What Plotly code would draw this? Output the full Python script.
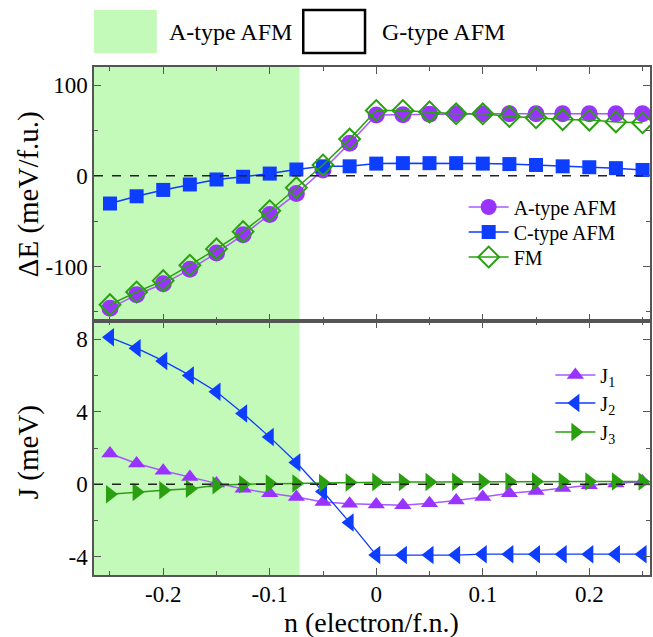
import plotly.graph_objects as go
from plotly.subplots import make_subplots

# ---------------- data ----------------
n_vals = [-0.25, -0.225, -0.2, -0.175, -0.15, -0.125, -0.1, -0.075, -0.05, -0.025,
          0.0, 0.025, 0.05, 0.075, 0.1, 0.125, 0.15, 0.175, 0.2, 0.225, 0.25]

dE_A_type = [-146, -131, -119, -103, -85, -65, -42.5, -19.5, 6.5, 36, 67,
             67.5, 68, 68.5, 68.5, 68.5, 68.5, 68.5, 68.5, 68.5, 68.5]
dE_C_type = [-30.5, -22.5, -15.5, -9.5, -4, -1, 2.5, 7, 10.5, 10.5, 13.5,
             14, 14, 14, 13.5, 13, 12, 10.5, 9.5, 8.5, 6.5]
dE_FM = [-142, -128, -115.5, -98.5, -80.5, -61.5, -38.5, -13, 12, 40.5, 72,
         72, 70.5, 68.5, 68.5, 65.5, 64, 62, 61.5, 59.5, 58.5]

J1 = [1.7, 1.15, 0.75, 0.4, 0.05, -0.25, -0.5, -0.7, -0.98, -1.07, -1.12,
      -1.15, -1.05, -0.9, -0.7, -0.5, -0.37, -0.2, -0.05, 0.05, 0.15]
J2 = [8.1, 7.5, 6.8, 6.0, 5.1, 3.9, 2.6, 1.2, -0.4, -2.1, -3.9,
      -3.9, -3.9, -3.9, -3.85, -3.85, -3.85, -3.85, -3.85, -3.85, -3.85]
J3 = [-0.55, -0.42, -0.33, -0.24, -0.06, 0.0, 0.04, 0.05, 0.07, 0.1, 0.12,
      0.13, 0.13, 0.14, 0.14, 0.15, 0.15, 0.15, 0.15, 0.15, 0.15]

x_tickvals = [-0.2, -0.1, 0.0, 0.1, 0.2]
x_ticktext = ["-0.2", "-0.1", "0", "0.1", "0.2"]
x_minor = [-0.25, -0.15, -0.05, 0.05, 0.15, 0.25]
e_tickvals = [-100, 0, 100]
e_ticktext = ["-100", "0", "100"]
e_minor = [-150, -50, 50]
j_tickvals = [-4, 0, 4, 8]
j_ticktext = ["-4", "0", "4", "8"]
j_minor = [-2, 2, 6]

A_region_end = -0.072
x_range = [-0.265, 0.257]

# ---------------- style ----------------
FONT = "Liberation Serif"
PURPLE = "#9933ff"
PURPLE_L = "#a659ff"
BLUE = "#0d3dff"
GREEN = "#2aa010"
SHADE = "#c3f9b9"
FRAME = "#555555"

W, H = 653, 637
L, R, T, B = 94, 652, 67, 575


def px_x(p):
    return (p - L) / (R - L)


def px_y(p):
    return (B - p) / (B - T)


fig = make_subplots(rows=2, cols=1, shared_xaxes=True, vertical_spacing=0)

fig.add_trace(go.Scatter(x=n_vals, y=dE_A_type, mode="lines+markers", name="A-type AFM",
                         line=dict(color=PURPLE_L, width=1.5),
                         marker=dict(symbol="circle", size=17, color=PURPLE),
                         legend="legend", showlegend=True), row=1, col=1)
fig.add_trace(go.Scatter(x=n_vals, y=dE_C_type, mode="lines+markers", name="C-type AFM",
                         line=dict(color=BLUE, width=1.5),
                         marker=dict(symbol="square", size=14, color=BLUE),
                         legend="legend2"), row=1, col=1)
fig.add_trace(go.Scatter(x=n_vals, y=dE_FM, mode="lines+markers", name="FM",
                         line=dict(color=GREEN, width=1.5),
                         marker=dict(symbol="diamond-open", size=16, color=GREEN,
                                     line=dict(width=2, color=GREEN)),
                         legend="legend3"), row=1, col=1)

fig.add_trace(go.Scatter(x=n_vals, y=J1, mode="lines+markers", name="J<sub>1</sub>",
                         line=dict(color=PURPLE_L, width=1.5),
                         marker=dict(symbol="triangle-up", size=15, color=PURPLE),
                         legend="legend4"), row=2, col=1)
fig.add_trace(go.Scatter(x=n_vals, y=J2, mode="lines+markers", name="J<sub>2</sub>",
                         line=dict(color=BLUE, width=1.3),
                         marker=dict(symbol="triangle-left", size=16, color=BLUE),
                         legend="legend5"), row=2, col=1)
fig.add_trace(go.Scatter(x=n_vals, y=J3, mode="lines+markers", name="J<sub>3</sub>",
                         line=dict(color=GREEN, width=1.5),
                         marker=dict(symbol="triangle-right", size=16, color=GREEN),
                         legend="legend6"), row=2, col=1)

axis_common = dict(showline=True, linecolor=FRAME, linewidth=1.5, mirror="allticks",
                   ticks="inside", ticklen=7, tickwidth=1.2, tickcolor=FRAME,
                   showgrid=False, zeroline=False,
                   tickfont=dict(family=FONT, size=23, color="black"))

fig.update_xaxes(range=x_range, tickmode="array", tickvals=x_tickvals, ticktext=x_ticktext,
                 minor=dict(tickmode="array", tickvals=x_minor, ticks="inside", ticklen=4,
                            tickcolor=FRAME, tickwidth=1.2, showgrid=False),
                 **axis_common)
fig.update_xaxes(showticklabels=False, row=1, col=1)
fig.update_xaxes(ticklabelstandoff=-2, row=2, col=1)

fig.update_yaxes(range=[-160, 120], tickmode="array", tickvals=e_tickvals, ticktext=e_ticktext,
                 minor=dict(tickmode="array", tickvals=e_minor, ticks="inside", ticklen=4,
                            tickcolor=FRAME, tickwidth=1.2, showgrid=False),
                 domain=[0.5, 1.0], row=1, col=1, **axis_common)
fig.update_yaxes(range=[-5, 9], tickmode="array", tickvals=j_tickvals, ticktext=j_ticktext,
                 minor=dict(tickmode="array", tickvals=j_minor, ticks="inside", ticklen=4,
                            tickcolor=FRAME, tickwidth=1.2, showgrid=False),
                 domain=[0.0, 0.5], row=2, col=1, **axis_common)

# shaded A-type AFM region across both panels
fig.add_shape(type="rect", xref="x", yref="paper", x0=x_range[0], x1=A_region_end,
              y0=0, y1=1, fillcolor=SHADE, line=dict(width=0), layer="below")
# dashed zero lines
fig.add_hline(y=0, line=dict(color="#222222", width=1.5, dash="dash"), row=1, col=1)
fig.add_hline(y=0, line=dict(color="#222222", width=1.5, dash="dash"), row=2, col=1)

# phase legend above the plot
fig.add_shape(type="rect", xref="paper", yref="paper",
              x0=px_x(94), x1=px_x(157), y0=px_y(53), y1=px_y(10),
              fillcolor=SHADE, line=dict(width=0))
fig.add_shape(type="rect", xref="paper", yref="paper",
              x0=px_x(304), x1=px_x(366), y0=px_y(53), y1=px_y(10),
              fillcolor="white", line=dict(width=2.5, color="black"))
fig.add_annotation(text="A-type AFM", xref="paper", yref="paper", x=px_x(167), y=px_y(32),
                   xanchor="left", yanchor="middle", showarrow=False,
                   font=dict(family=FONT, size=24, color="black"))
fig.add_annotation(text="G-type AFM", xref="paper", yref="paper", x=px_x(381), y=px_y(32),
                   xanchor="left", yanchor="middle", showarrow=False,
                   font=dict(family=FONT, size=24, color="black"))

# axis titles
fig.add_annotation(text="ΔE (meV/f.u.)", xref="paper", yref="paper", x=px_x(28), y=px_y(194),
                   xanchor="center", yanchor="middle", textangle=-90, showarrow=False,
                   font=dict(family=FONT, size=29, color="black"))
fig.add_annotation(text="J (meV)", xref="paper", yref="paper", x=px_x(28), y=px_y(452),
                   xanchor="center", yanchor="middle", textangle=-90, showarrow=False,
                   font=dict(family=FONT, size=29, color="black"))
fig.add_annotation(text="n (electron/f.n.)", xref="paper", yref="paper", x=px_x(372), y=px_y(622),
                   xanchor="center", yanchor="middle", showarrow=False,
                   font=dict(family=FONT, size=28, color="black"))


def leg(xp, yp, size):
    return dict(x=px_x(xp), y=px_y(yp), xanchor="left", yanchor="middle",
                bgcolor="rgba(0,0,0,0)", borderwidth=0, visible=True,
                font=dict(family=FONT, size=size, color="black"), itemwidth=40)


fig.update_layout(
    width=W, height=H, showlegend=True,
    margin=dict(l=L, r=W - R, t=T, b=H - B),
    paper_bgcolor="white", plot_bgcolor="rgba(0,0,0,0)",
    font=dict(family=FONT, color="black"),
    legend=leg(465, 207, 20),
    legend2=leg(465, 232, 20),
    legend3=leg(465, 257, 20),
    legend4=leg(552, 375, 20),
    legend5=leg(552, 403, 20),
    legend6=leg(552, 432, 20),
)

fig.write_html("out.html", config={"displayModeBar": False},
               post_script="document.body.style.margin='0';")
